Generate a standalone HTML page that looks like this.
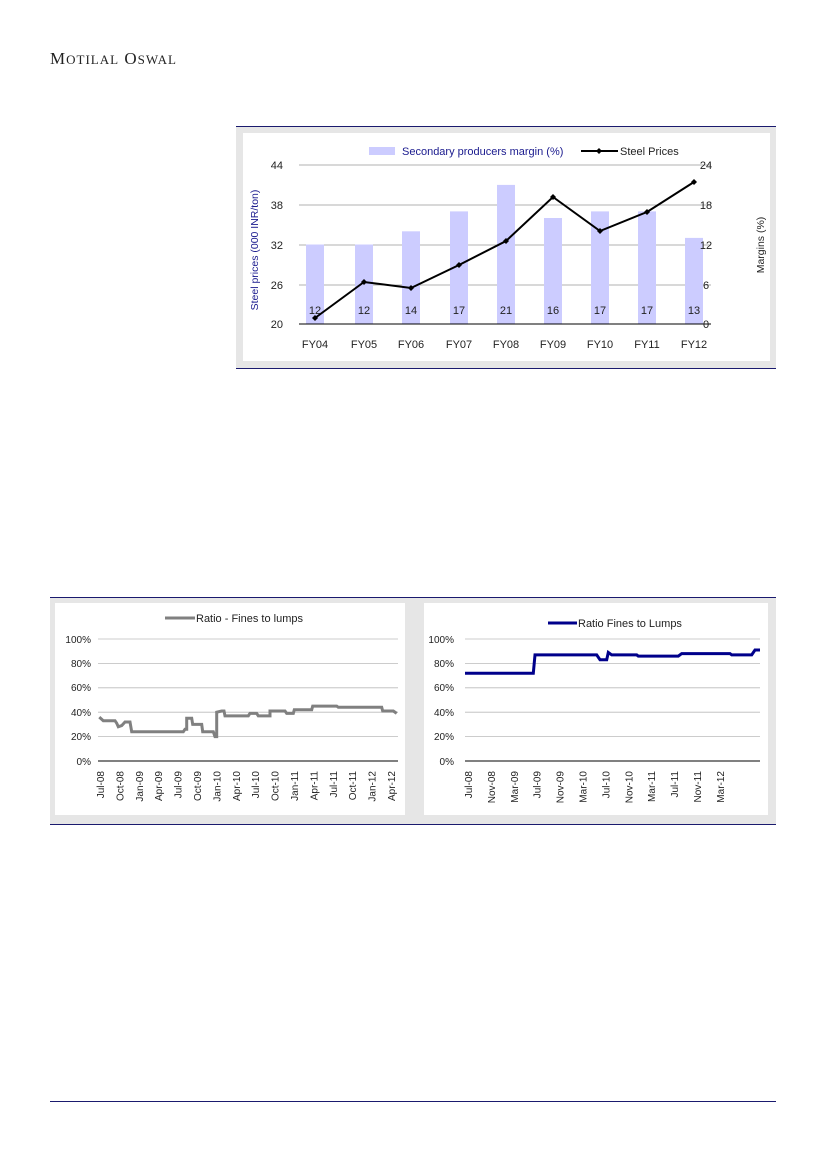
<!DOCTYPE html>
<html><head><meta charset="utf-8"><style>
body{margin:0;background:#fff;}
svg{display:block;font-family:"Liberation Sans",sans-serif;}
</style></head><body>
<svg width="826" height="1169" viewBox="0 0 826 1169" xmlns="http://www.w3.org/2000/svg">
<rect width="826" height="1169" fill="#fff"/>
<text x="50" y="64" font-family="Liberation Serif,serif" font-size="17" fill="#222" letter-spacing="1">M<tspan font-size="13">OTILAL</tspan> O<tspan font-size="13">SWAL</tspan></text>

<!-- Chart 1 -->
<rect x="236" y="126" width="540" height="242" fill="#e6e6e6"/>
<line x1="236" y1="126.5" x2="776" y2="126.5" stroke="#1a1a6e" stroke-width="1"/>
<line x1="236" y1="368.5" x2="776" y2="368.5" stroke="#1a1a6e" stroke-width="1"/>
<rect x="243" y="133" width="527" height="228" fill="#fff"/>
<g stroke="#999" stroke-width="0.8">
<line x1="299" y1="165" x2="711" y2="165"/><line x1="299" y1="205" x2="711" y2="205"/>
<line x1="299" y1="245" x2="711" y2="245"/><line x1="299" y1="285" x2="711" y2="285"/>
</g>
<g fill="#ccccff">
<rect x="306" y="244.5" width="18" height="79.5"/>
<rect x="355" y="244.5" width="18" height="79.5"/>
<rect x="402" y="231.3" width="18" height="92.7"/>
<rect x="450" y="211.4" width="18" height="112.6"/>
<rect x="497" y="184.9" width="18" height="139.1"/>
<rect x="544" y="218" width="18" height="106"/>
<rect x="591" y="211.4" width="18" height="112.6"/>
<rect x="638" y="211.4" width="18" height="112.6"/>
<rect x="685" y="237.9" width="18" height="86.1"/>
</g>
<line x1="299" y1="324" x2="711" y2="324" stroke="#000" stroke-width="1"/>
<g font-size="11" fill="#222" text-anchor="middle">
<text x="315" y="314">12</text><text x="364" y="314">12</text><text x="411" y="314">14</text>
<text x="459" y="314">17</text><text x="506" y="314">21</text><text x="553" y="314">16</text>
<text x="600" y="314">17</text><text x="647" y="314">17</text><text x="694" y="314">13</text>
</g>
<polyline points="315,318 364,282 411,288 459,265 506,241 553,197 600,231 647,212 694,182" fill="none" stroke="#000" stroke-width="2"/>
<g fill="#000">
<path d="M315,315 l3,3 -3,3 -3,-3z"/><path d="M364,279 l3,3 -3,3 -3,-3z"/><path d="M411,285 l3,3 -3,3 -3,-3z"/>
<path d="M459,262 l3,3 -3,3 -3,-3z"/><path d="M506,238 l3,3 -3,3 -3,-3z"/><path d="M553,194 l3,3 -3,3 -3,-3z"/>
<path d="M600,228 l3,3 -3,3 -3,-3z"/><path d="M647,209 l3,3 -3,3 -3,-3z"/><path d="M694,179 l3,3 -3,3 -3,-3z"/>
</g>
<g font-size="11" fill="#222" text-anchor="end">
<text x="283" y="169">44</text><text x="283" y="209">38</text><text x="283" y="249">32</text>
<text x="283" y="289">26</text><text x="283" y="328">20</text>
</g>
<g font-size="11" fill="#222" text-anchor="middle">
<text x="706" y="169">24</text><text x="706" y="209">18</text><text x="706" y="249">12</text>
<text x="706" y="289">6</text><text x="706" y="328">0</text>
</g>
<g font-size="11" fill="#222" text-anchor="middle">
<text x="315" y="348">FY04</text><text x="364" y="348">FY05</text><text x="411" y="348">FY06</text>
<text x="459" y="348">FY07</text><text x="506" y="348">FY08</text><text x="553" y="348">FY09</text>
<text x="600" y="348">FY10</text><text x="647" y="348">FY11</text><text x="694" y="348">FY12</text>
</g>
<text transform="translate(258,250) rotate(-90)" font-size="10.5" fill="#1a1a8e" text-anchor="middle">Steel prices (000 INR/ton)</text>
<text transform="translate(764,245) rotate(-90)" font-size="10.5" fill="#222" text-anchor="middle">Margins (%)</text>
<rect x="369" y="147" width="26" height="8" fill="#ccccff"/>
<text x="402" y="155" font-size="11" fill="#1a1a8e">Secondary producers margin (%)</text>
<line x1="581" y1="151" x2="618" y2="151" stroke="#000" stroke-width="2"/>
<path d="M599,148 l3,3 -3,3 -3,-3z" fill="#000"/>
<text x="620" y="155" font-size="11" fill="#222">Steel Prices</text>

<!-- Bottom frame -->
<rect x="50" y="597" width="726" height="227" fill="#e6e6e6"/>
<line x1="50" y1="597.5" x2="776" y2="597.5" stroke="#1a1a6e" stroke-width="1"/>
<line x1="50" y1="824.5" x2="776" y2="824.5" stroke="#1a1a6e" stroke-width="1"/>
<rect x="55" y="603" width="350" height="212" fill="#fff"/>
<rect x="424" y="603" width="344" height="212" fill="#fff"/>

<!-- Chart 2 left -->
<g stroke="#bbb" stroke-width="0.8">
<line x1="98" y1="639" x2="398" y2="639"/><line x1="98" y1="663.4" x2="398" y2="663.4"/>
<line x1="98" y1="687.8" x2="398" y2="687.8"/><line x1="98" y1="712.2" x2="398" y2="712.2"/>
<line x1="98" y1="736.6" x2="398" y2="736.6"/>
</g>
<line x1="98" y1="761" x2="398" y2="761" stroke="#000" stroke-width="1"/>
<g font-size="10" fill="#222" text-anchor="end">
<text x="91" y="643">100%</text><text x="91" y="667">80%</text><text x="91" y="691">60%</text>
<text x="91" y="716">40%</text><text x="91" y="740">20%</text><text x="91" y="765">0%</text>
</g>
<polyline fill="none" stroke="#808080" stroke-width="3" points="99.3,717.1 103.3,720.7 115,720.7 116.7,723.2 118.3,726.8 121.7,725.6 125,722 130,722 131.7,731.7 183.3,731.7 185,729.3 186.7,729.3 186.7,718.3 191.7,718.3 192.7,724.4 201.7,724.4 202.7,731.7 213.3,731.7 215,736.6 216.7,736.6 216.7,712.2 221.7,711 224,711 225,715.9 248.3,715.9 250,713.4 256.7,713.4 258.3,715.9 270,715.9 270,711 285,711 286.7,713.4 293.3,713.4 294.3,709.8 311.7,709.8 312.7,706.1 336.7,706.1 338.3,707.3 381.7,707.3 382.7,711 393.3,711 396.7,713.4"/>
<g font-size="10" fill="#222" text-anchor="end">
<text transform="translate(104,771) rotate(-90)">Jul-08</text>
<text transform="translate(123.4,771) rotate(-90)">Oct-08</text>
<text transform="translate(142.8,771) rotate(-90)">Jan-09</text>
<text transform="translate(162.2,771) rotate(-90)">Apr-09</text>
<text transform="translate(181.6,771) rotate(-90)">Jul-09</text>
<text transform="translate(201,771) rotate(-90)">Oct-09</text>
<text transform="translate(220.4,771) rotate(-90)">Jan-10</text>
<text transform="translate(239.8,771) rotate(-90)">Apr-10</text>
<text transform="translate(259.2,771) rotate(-90)">Jul-10</text>
<text transform="translate(278.6,771) rotate(-90)">Oct-10</text>
<text transform="translate(298,771) rotate(-90)">Jan-11</text>
<text transform="translate(317.4,771) rotate(-90)">Apr-11</text>
<text transform="translate(336.8,771) rotate(-90)">Jul-11</text>
<text transform="translate(356.2,771) rotate(-90)">Oct-11</text>
<text transform="translate(375.6,771) rotate(-90)">Jan-12</text>
<text transform="translate(395,771) rotate(-90)">Apr-12</text>
</g>
<line x1="165" y1="618" x2="195" y2="618" stroke="#808080" stroke-width="3"/>
<text x="196" y="622" font-size="11" fill="#222">Ratio - Fines to lumps</text>

<!-- Chart 3 right -->
<g stroke="#bbb" stroke-width="0.8">
<line x1="465" y1="639" x2="760" y2="639"/><line x1="465" y1="663.4" x2="760" y2="663.4"/>
<line x1="465" y1="687.8" x2="760" y2="687.8"/><line x1="465" y1="712.2" x2="760" y2="712.2"/>
<line x1="465" y1="736.6" x2="760" y2="736.6"/>
</g>
<line x1="465" y1="761" x2="760" y2="761" stroke="#000" stroke-width="1"/>
<g font-size="10" fill="#222" text-anchor="end">
<text x="454" y="643">100%</text><text x="454" y="667">80%</text><text x="454" y="691">60%</text>
<text x="454" y="716">40%</text><text x="454" y="740">20%</text><text x="454" y="765">0%</text>
</g>
<polyline fill="none" stroke="#00008b" stroke-width="3" points="465,673.2 533.3,673.2 535,654.9 596.7,654.9 600,659.7 606.7,659.7 608.3,652.4 611.7,654.9 636.7,654.9 638.3,656.1 678.3,656.1 681.7,653.6 730,653.6 731.7,654.9 751.7,654.9 755,650 760,650"/>
<g font-size="10" fill="#222" text-anchor="end">
<text transform="translate(472,771) rotate(-90)">Jul-08</text>
<text transform="translate(494.9,771) rotate(-90)">Nov-08</text>
<text transform="translate(517.8,771) rotate(-90)">Mar-09</text>
<text transform="translate(540.7,771) rotate(-90)">Jul-09</text>
<text transform="translate(563.6,771) rotate(-90)">Nov-09</text>
<text transform="translate(586.5,771) rotate(-90)">Mar-10</text>
<text transform="translate(609.4,771) rotate(-90)">Jul-10</text>
<text transform="translate(632.3,771) rotate(-90)">Nov-10</text>
<text transform="translate(655.2,771) rotate(-90)">Mar-11</text>
<text transform="translate(678.1,771) rotate(-90)">Jul-11</text>
<text transform="translate(701,771) rotate(-90)">Nov-11</text>
<text transform="translate(723.9,771) rotate(-90)">Mar-12</text>
</g>
<line x1="548" y1="623" x2="577" y2="623" stroke="#00008b" stroke-width="3"/>
<text x="578" y="627" font-size="11" fill="#222">Ratio Fines to Lumps</text>

<line x1="50" y1="1101.5" x2="776" y2="1101.5" stroke="#1a1a6e" stroke-width="1"/>
</svg>
</body></html>
